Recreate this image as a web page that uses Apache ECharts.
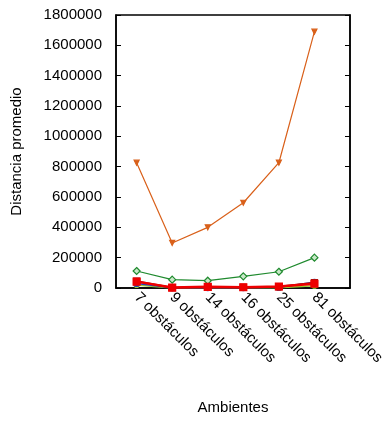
<!DOCTYPE html>
<html><head><meta charset="utf-8">
<script src="https://cdn.jsdelivr.net/npm/echarts@6/dist/echarts.min.js"></script>
<style>html,body{margin:0;padding:0;background:#fff}#c{width:392px;height:421px}</style>
</head><body><div id="c"></div>
<script>
const categories = ["7 obstáculos","9 obstáculos","14 obstáculos","16 obstáculos","25 obstáculos","81 obstáculos"];
const yTicks = [0,200000,400000,600000,800000,1000000,1200000,1400000,1600000,1800000];
const orangeVals = [826000, 297000, 400000, 562000, 826000, 1690000];
const greenVals  = [112000, 55000, 48000, 77000, 107000, 200000];
const yellowVals = [20000, 500, 1000, 1000, 2000, 15000];
const blueVals   = [30000, 1000, 3000, 2000, 5000, 38000];
const darkRedVals= [45000, 2000, 6000, 4000, 8000, 35000];
const redVals    = [42000, 3000, 8000, 5000, 10000, 28000];

const idx = categories.map((c,i)=>i);
const pts = vals => vals.map((v,i)=>[idx[i], v]);
const FONT = "Liberation Sans";
const chart = echarts.init(document.getElementById('c'), null, {renderer:'canvas'});
function s(name, vals, color, symbol, size, width, fill){
  return {name, type:'line', data:pts(vals), symbol, symbolSize:size, showSymbol:true,
    lineStyle:{color, width}, itemStyle:{color: fill||color, borderColor:color, borderWidth:1.2}, animation:false};
}
chart.setOption({
  animation:false,
  textStyle:{fontFamily:FONT},
  grid:{left:116, right:42, top:15, bottom:133, show:true, borderColor:'#000', borderWidth:1.5},
  xAxis:{type:'value', min:-0.58, max:6.0, position:'bottom',
    name:'Ambientes', nameLocation:'middle', nameGap:112,
    nameTextStyle:{fontSize:15, color:'#000', fontFamily:FONT},
    axisLine:{show:true, onZero:false, lineStyle:{color:'#000', width:1.5}},
    splitLine:{show:false},
    axisTick:{show:true, inside:true, length:4, customValues:idx, lineStyle:{color:'#000'}},
    axisLabel:{customValues:idx, rotate:-45, margin:7, fontSize:15, color:'#000', fontFamily:FONT,
      formatter:v=>categories[Math.round(v)]}
  },
  yAxis:[{type:'value', min:yTicks[0], max:yTicks[yTicks.length-1], interval:200000,
    name:'Distancia promedio', nameLocation:'middle', nameGap:92,
    nameTextStyle:{fontSize:15, color:'#000', fontFamily:FONT},
    axisLine:{show:true, onZero:false, lineStyle:{color:'#000', width:1.5}},
    axisTick:{show:true, inside:true, length:5, lineStyle:{color:'#000'}},
    splitLine:{show:false},
    axisLabel:{fontSize:15, color:'#000', margin:14, fontFamily:FONT, formatter:v=>String(v)}
  },{type:'value', position:'right', min:yTicks[0], max:yTicks[yTicks.length-1], interval:200000,
    axisLine:{show:true, onZero:false, lineStyle:{color:'#000', width:1.5}},
    axisTick:{show:true, inside:true, length:5, lineStyle:{color:'#000'}},
    splitLine:{show:false}, axisLabel:{show:false}
  }],
  series:[
    s('naranja', orangeVals, '#d9601a', 'triangle', 5, 1.2),
    s('verde', greenVals, '#1f8a2e', 'diamond', 7, 1.2, '#c8e8c8'),
    s('amarillo', yellowVals, '#9acd32', 'circle', 5, 1.5),
    s('azul', blueVals, '#2040c0', 'circle', 6, 1.5),
    s('granate', darkRedVals, '#a01010', 'rect', 6, 2),
    s('rojo', redVals, '#ee0000', 'rect', 7, 2.5)
  ].map(o=>{ if(o.symbol==='triangle'){ o.symbolRotate=180; } return o; })
});
</script></body></html>
